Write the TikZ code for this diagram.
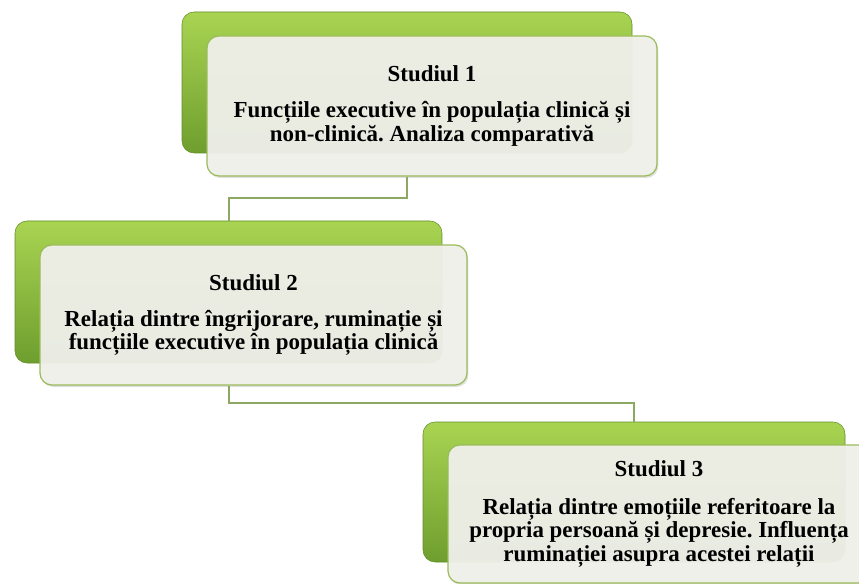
\documentclass[tikz,border=0pt]{standalone}
\usepackage{fontspec}
\setmainfont{Liberation Serif}
\usetikzlibrary{calc,shadows}
\definecolor{gtop}{HTML}{A9D452}
\definecolor{gbot}{HTML}{6E9E2E}
\definecolor{lightfill}{HTML}{F1F1EC}
\definecolor{lborder}{HTML}{9BBB59}
\definecolor{connc}{HTML}{8DA860}
\begin{document}
\frenchspacing
\begin{tikzpicture}[x=0.75pt,y=-0.75pt,
  greenbox/.style={rectangle, rounded corners=9pt, inner sep=0pt,
    top color=gtop, bottom color=gbot, draw=gbot!90!black, line width=0.4pt},
  lightbox/.style={rectangle, rounded corners=9pt, inner sep=0pt,
    fill=lightfill, fill opacity=0.94, text opacity=1, draw=lborder, line width=0.9pt,
    drop shadow={opacity=0.25, shadow xshift=1pt, shadow yshift=-1.5pt},
    align=center, font=\frenchspacing\fontsize{17.2}{17.6}\selectfont\bfseries},
  conn/.style={draw=connc, line width=1.5pt}]
\useasboundingbox (0,0) rectangle (859,584);
% boxes
\node[greenbox, minimum width=337.5pt, minimum height=105.75pt] (g1) at (407,82.5) {};
\node[greenbox, minimum width=320.25pt, minimum height=106.5pt] (g2) at (228.5,292) {};
\node[greenbox, minimum width=316.5pt, minimum height=105pt] (g3) at (634,492) {};
% connectors
\coordinate (m1) at ($(g1.center |- 0,175)!0.5!(g2.north)$);
\coordinate (m2) at ($(g2.center |- 0,385)!0.5!(g3.north)$);
\node[lightbox, minimum width=337.5pt, minimum height=105pt] (l1) at (432,106)
  {Studiul 1\\[9.5pt]Funcțiile executive în populația clinică și\\non-clinică. Analiza comparativă};
\node[lightbox, minimum width=320.25pt, minimum height=105pt] (l2) at (253.5,315)
  {Studiul 2\\[9.5pt]Relația dintre îngrijorare, ruminație și\\funcțiile executive în populația clinică};
\node[lightbox, minimum width=316.5pt, minimum height=103.5pt] (l3) at (659,514)
  {Studiul 3\\[10.5pt]Relația dintre emoțiile referitoare la\\propria persoană și depresie. Influența\\ruminației asupra acestei relații};
\draw[conn] (l1.south -| g1.center) -- (m1 -| g1.center) -| (g2.north);
\draw[conn] (l2.south -| g2.center) -- (m2 -| g2.center) -| (g3.north);
\end{tikzpicture}
\end{document}
